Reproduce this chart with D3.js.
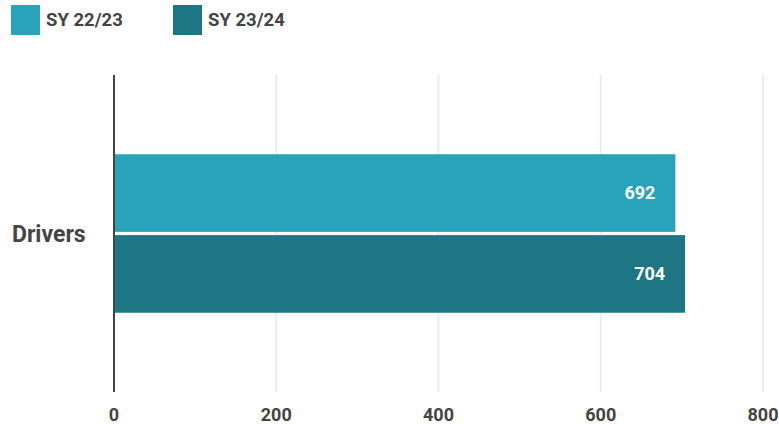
<!DOCTYPE html>
<html>
<head>
<meta charset="utf-8">
<script src="https://cdn.jsdelivr.net/npm/d3@7"></script>
<style>
  body { margin: 0; background: #fff; font-family: Roboto, "Noto Sans", sans-serif; }
  svg { display: block; }
</style>
</head>
<body>
<div id="chart"></div>
<script>
// DATA
const categories = ["Drivers"];
const seriesNames = ["SY 22/23", "SY 23/24"];
const sy2223 = [692];
const sy2324 = [704];
const xTicks = [0, 200, 400, 600, 800];

const colors = ["#29a3b9", "#1e7584"];
const textColor = "#444444";

const width = 779, height = 424;
const margin = { top: 75, right: 16, bottom: 32, left: 114 };

const svg = d3.select("#chart").append("svg")
  .attr("width", width)
  .attr("height", height);

// scales
const x = d3.scaleLinear()
  .domain([0, 800])
  .range([margin.left, width - margin.right]);

const y = d3.scaleBand()
  .domain(categories)
  .range([margin.top, height - margin.bottom])
  .paddingInner(0)
  .paddingOuter(0.5);

const ySub = d3.scaleBand()
  .domain(seriesNames)
  .range([0, y.bandwidth()])
  .paddingInner(0.04);

// gridlines
svg.append("g")
  .selectAll("line")
  .data(xTicks.filter(d => d > 0))
  .join("line")
    .attr("x1", d => x(d))
    .attr("x2", d => x(d))
    .attr("y1", margin.top)
    .attr("y2", height - margin.bottom)
    .attr("stroke", "#ebebeb")
    .attr("stroke-width", 2);

// bars
const rows = categories.map((c, i) => ({
  category: c,
  values: [sy2223[i], sy2324[i]]
}));

const groups = svg.append("g")
  .selectAll("g")
  .data(rows)
  .join("g")
    .attr("transform", d => `translate(0,${y(d.category)})`);

groups.selectAll("rect")
  .data(d => d.values.map((v, j) => ({ series: seriesNames[j], value: v, j })))
  .join("rect")
    .attr("x", x(0))
    .attr("y", d => ySub(d.series))
    .attr("width", d => x(d.value) - x(0))
    .attr("height", ySub.bandwidth())
    .attr("fill", d => colors[d.j]);

groups.selectAll("text")
  .data(d => d.values.map((v, j) => ({ series: seriesNames[j], value: v })))
  .join("text")
    .attr("x", d => x(d.value) - 20)
    .attr("y", d => ySub(d.series) + ySub.bandwidth() / 2)
    .attr("dy", "0.35em")
    .attr("text-anchor", "end")
    .attr("fill", "#ffffff")
    .attr("font-size", 18)
    .attr("font-weight", 700)
    .text(d => d.value);

// zero axis line
svg.append("line")
  .attr("x1", x(0))
  .attr("x2", x(0))
  .attr("y1", margin.top)
  .attr("y2", height - margin.bottom)
  .attr("stroke", textColor)
  .attr("stroke-width", 2);

// category labels
svg.append("g")
  .selectAll("text")
  .data(categories)
  .join("text")
    .attr("x", 12)
    .attr("y", d => y(d) + y.bandwidth() / 2)
    .attr("dy", "0.35em")
    .attr("fill", textColor)
    .attr("font-size", 23)
    .attr("font-weight", 700)
    .text(d => d);

// x tick labels
svg.append("g")
  .selectAll("text")
  .data(xTicks)
  .join("text")
    .attr("x", d => x(d))
    .attr("y", 421)
    .attr("text-anchor", "middle")
    .attr("fill", textColor)
    .attr("font-size", 18)
    .attr("font-weight", 700)
    .text(d => d);

// legend
const legend = svg.append("g")
  .selectAll("g")
  .data(seriesNames)
  .join("g")
    .attr("transform", (d, i) => `translate(${11 + i * 162},5)`);

legend.append("rect")
  .attr("width", 29)
  .attr("height", 30)
  .attr("fill", (d, i) => colors[i]);

legend.append("text")
  .attr("x", 35)
  .attr("y", 15)
  .attr("dy", "0.35em")
  .attr("fill", textColor)
  .attr("font-size", 18.5)
  .attr("font-weight", 700)
  .text(d => d);
</script>
</body>
</html>
